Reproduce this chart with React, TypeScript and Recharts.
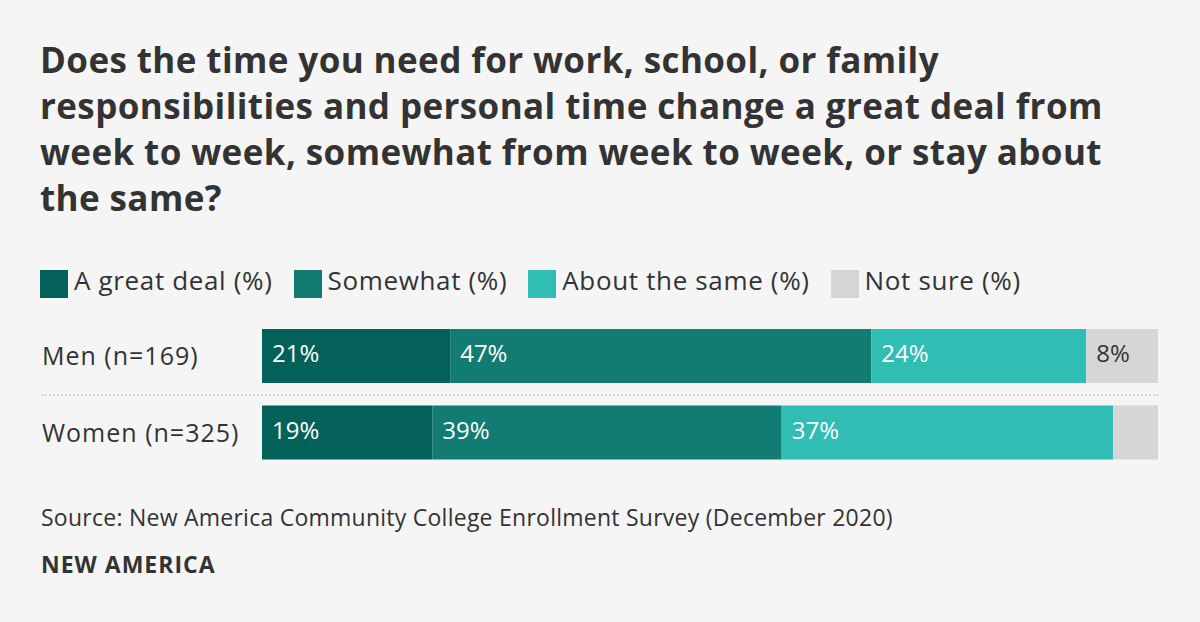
import { BarChart, Bar, XAxis, YAxis, LabelList } from 'recharts'

// Survey groups and their shares (%)
const groups = ['Men (n=169)', 'Women (n=325)']
const greatDeal = [21, 19]
const somewhat = [47, 39]
const aboutSame = [24, 37]
const notSure = [8, 5]

const TITLE_LINES = [
  'Does the time you need for work, school, or family',
  'responsibilities and personal time change a great deal from',
  'week to week, somewhat from week to week, or stay about',
  'the same?',
]

const SERIES = [
  { key: 'greatDeal', name: 'A great deal (%)', color: '#03615A', text: '#ffffff' },
  { key: 'somewhat', name: 'Somewhat (%)', color: '#127C72', text: '#ffffff' },
  { key: 'aboutSame', name: 'About the same (%)', color: '#2FBDB4', text: '#ffffff' },
  { key: 'notSure', name: 'Not sure (%)', color: '#D6D6D6', text: '#333333' },
]

const rows = groups.map((group, i) => ({
  group,
  greatDeal: greatDeal[i],
  somewhat: somewhat[i],
  aboutSame: aboutSame[i],
  notSure: notSure[i],
}))

const FONT = '"Open Sans", "Noto Sans", sans-serif'

const makeLabel = (fill: string) => (props: any) => {
  const { x, y, height, value } = props
  // small segments stay unlabeled, like in the original
  if (value < 6) return null
  return (
    <text x={x + 10} y={y + height / 2} dy={6} fill={fill} fontSize={24} fontFamily={FONT}>
      {value}%
    </text>
  )
}

const GroupTick = (props: any) => {
  const { y, payload } = props
  return (
    <text
      x={42}
      y={y}
      dy={9}
      fill="#333333"
      fontSize={25}
      fontFamily={FONT}
      letterSpacing={1}
      textAnchor="start"
    >
      {payload.value}
    </text>
  )
}

export default function App() {
  return (
    <div
      style={{
        position: 'absolute',
        left: 0,
        top: 0,
        width: 1200,
        height: 622,
        background: '#F5F5F5',
        fontFamily: FONT,
        color: '#333333',
        overflow: 'hidden',
      }}
    >
      <div
        style={{
          position: 'absolute',
          left: 40,
          top: 37,
          fontSize: 35,
          fontWeight: 700,
          lineHeight: '46px',
          letterSpacing: 0.4,
          whiteSpace: 'nowrap',
        }}
      >
        {TITLE_LINES.map((line) => (
          <div key={line}>{line}</div>
        ))}
      </div>

      {/* legend */}
      <div style={{ position: 'absolute', left: 40, top: 262, display: 'flex', alignItems: 'flex-start' }}>
        {SERIES.map((s) => (
          <div key={s.key} style={{ display: 'flex', alignItems: 'flex-start', marginRight: 21 }}>
            <span
              style={{ width: 28, height: 28, background: s.color, display: 'inline-block', marginTop: 8, marginRight: 6 }}
            />
            <span style={{ fontSize: 26, letterSpacing: 0.65, lineHeight: '36px' }}>{s.name}</span>
          </div>
        ))}
      </div>

      {/* dotted separator between rows */}
      <div
        style={{
          position: 'absolute',
          left: 42,
          top: 394,
          width: 1116,
          borderTop: '2px dotted #D6D6D6',
        }}
      />

      <div style={{ position: 'absolute', left: 0, top: 0 }}>
        <BarChart
          width={1200}
          height={480}
          data={rows}
          layout="vertical"
          margin={{ top: 318, right: 42, bottom: 9, left: 42 }}
          barSize={54}
        >
          <XAxis type="number" domain={[0, 100]} hide />
          <YAxis type="category" dataKey="group" width={220} axisLine={false} tickLine={false} tick={<GroupTick />} />
          {SERIES.map((s) => (
            <Bar key={s.key} dataKey={s.key} name={s.name} stackId="a" fill={s.color} isAnimationActive={false}>
              <LabelList dataKey={s.key} content={makeLabel(s.text)} />
            </Bar>
          ))}
        </BarChart>
      </div>

      <div style={{ position: 'absolute', left: 41, top: 501, fontSize: 23, letterSpacing: 0.25 }}>
        Source: New America Community College Enrollment Survey (December 2020)
      </div>
      <div style={{ position: 'absolute', left: 41, top: 548, fontSize: 23, fontWeight: 700, letterSpacing: 1 }}>
        NEW AMERICA
      </div>
    </div>
  )
}
